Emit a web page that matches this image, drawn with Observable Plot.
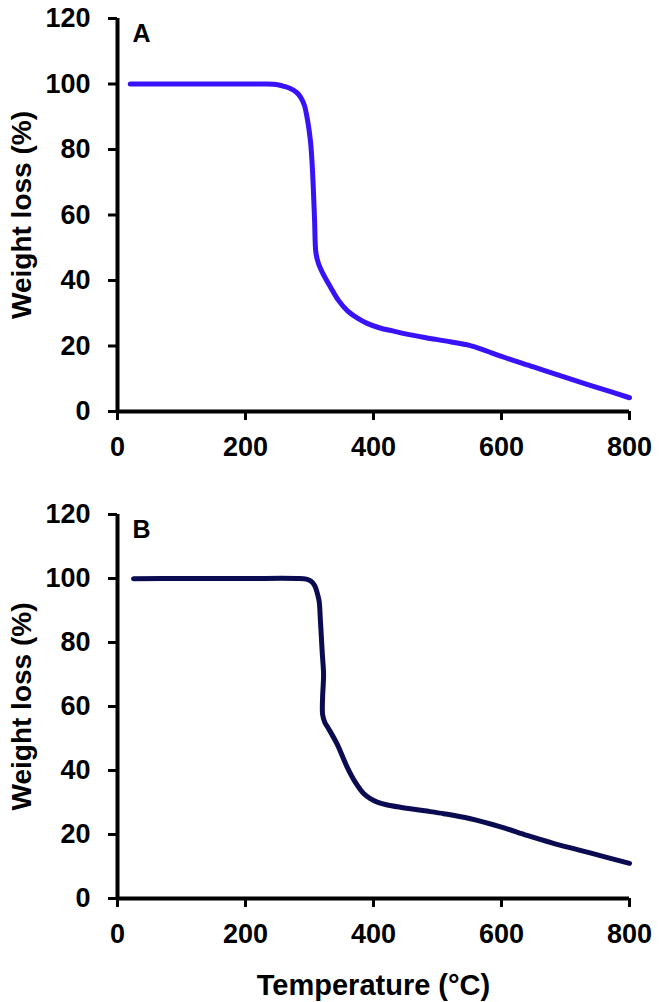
<!DOCTYPE html>
<html>
<head>
<meta charset="utf-8">
<script src="https://cdn.jsdelivr.net/npm/d3@7"></script>
<script src="https://cdn.jsdelivr.net/npm/@observablehq/plot@0.6"></script>
<style>
  html, body { margin: 0; padding: 0; background: #fff; }
  #chart svg { display: block; }
</style>
</head>
<body>
<div id="chart"></div>
<script>
// ---- Data ----
const tempA   = [20, 50, 100, 150, 200, 230, 250, 260, 270, 280, 286, 292, 296, 300, 302, 304, 306, 308, 310, 314, 320, 333, 345, 359, 375, 390, 410, 430, 450, 480, 520, 550, 575, 600, 650, 700, 750, 800];
const weightA = [100, 100, 100, 100, 100, 100, 99.8, 99.3, 98.6, 97.4, 96, 93.5, 90, 85, 81.5, 76, 68, 58, 48.5, 45.2, 42.5, 37.9, 34, 30.8, 28.5, 26.9, 25.5, 24.6, 23.7, 22.6, 21.3, 20.2, 18.6, 16.8, 13.6, 10.4, 7.3, 4.2];

const tempB   = [25, 100, 200, 280, 295, 302, 308, 312, 315, 317, 319, 320, 322, 321.5, 320.5, 320.5, 324, 330, 343, 359, 372, 385, 395, 406, 420, 442, 480, 510, 550, 600, 640, 680, 720, 760, 800];
const weightB = [99.9, 100, 100, 100, 99.8, 99.2, 97.8, 95.5, 93, 87, 80, 76.5, 70.2, 67, 63, 57.5, 55, 53, 48.3, 41, 36.2, 32.7, 31.2, 30.1, 29.3, 28.5, 27.4, 26.5, 25, 22.3, 19.7, 17.3, 15.2, 13.1, 11];

const xTicks = [0, 200, 400, 600, 800];
const yTicks = [0, 20, 40, 60, 80, 100, 120];
const xDomain = [0, 800];
const yDomain = [0, 120];
const panelLabels = ["A", "B"];
const yLabel = "Weight loss (%)";
const xLabel = "Temperature (°C)";
const colors = ["#3a12f7", "#0b0b52"];

const FONT = "'Liberation Sans', Arial, Helvetica, sans-serif";

function panel({temps, weights, label, color, height, marginTop, marginBottom, showXLabel}) {
  const data = temps.map((t, i) => ({t, w: weights[i]}));
  const marks = [
    Plot.line(data, {x: "t", y: "w", stroke: color, strokeWidth: 5, curve: "catmull-rom"}),
    Plot.ruleX([xDomain[0]], {stroke: "black", strokeWidth: 4}),
    Plot.ruleY([yDomain[0]], {stroke: "black", strokeWidth: 4}),
    Plot.axisY({ticks: yTicks, tickSize: 9, tickPadding: 18, fontWeight: "bold", strokeWidth: 3, label: null}),
    Plot.axisX({ticks: xTicks, tickSize: 9, tickPadding: 16, fontWeight: "bold", strokeWidth: 3, label: null}),
    Plot.text([label], {frameAnchor: "top-left", dx: 15, dy: 6, lineAnchor: "top", textAnchor: "start", fontSize: 25, fontWeight: "bold", fill: "black"}),
    Plot.text([yLabel], {frameAnchor: "left", dx: -95, rotate: -90, textAnchor: "middle", lineAnchor: "middle", fontSize: 28, fontWeight: "bold", fill: "black"})
  ];
  if (showXLabel) {
    marks.push(Plot.text([xLabel], {frameAnchor: "bottom", dy: 87, textAnchor: "middle", lineAnchor: "middle", fontSize: 29, fontWeight: "bold", fill: "black"}));
  }
  return Plot.plot({
    width: 661,
    height,
    marginLeft: 117,
    marginRight: 32,
    marginTop,
    marginBottom,
    x: {domain: xDomain},
    y: {domain: yDomain},
    style: {fontFamily: FONT, fontSize: "27px", color: "black", background: "white", overflow: "visible"},
    marks
  });
}

const chart = document.getElementById("chart");
chart.appendChild(panel({temps: tempA, weights: weightA, label: panelLabels[0], color: colors[0], height: 490, marginTop: 18, marginBottom: 79, showXLabel: false}));
chart.appendChild(panel({temps: tempB, weights: weightB, label: panelLabels[1], color: colors[1], height: 512, marginTop: 24, marginBottom: 104, showXLabel: true}));
</script>
</body>
</html>
